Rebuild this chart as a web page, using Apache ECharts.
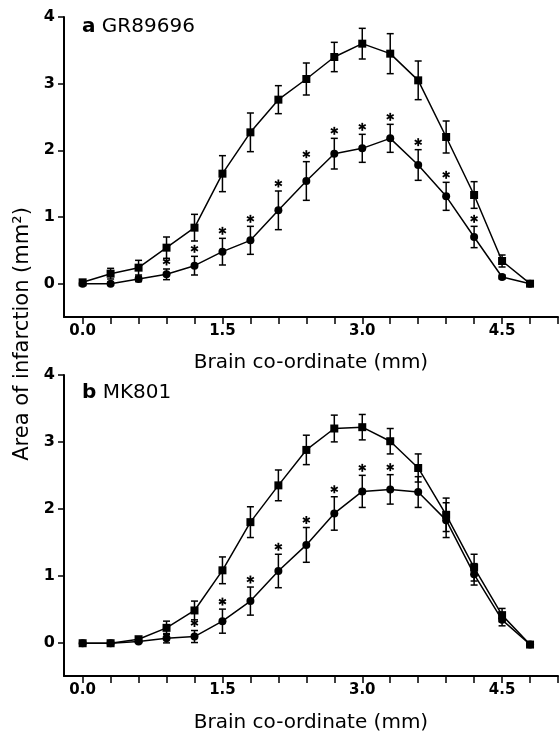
<!DOCTYPE html>
<html>
<head>
<meta charset="utf-8">
<script src="https://cdn.jsdelivr.net/npm/echarts@6/dist/echarts.min.js"></script>
<style>
  html, body { margin: 0; padding: 0; background: #fff; }
  #chart { width: 560px; height: 731px; }
</style>
</head>
<body>
<div id="chart"></div>
<script>
const xValues = [0, 0.3, 0.6, 0.9, 1.2, 1.5, 1.8, 2.1, 2.4, 2.7, 3.0, 3.3, 3.6, 3.9, 4.2, 4.5, 4.8]
const xTicks = [0, 0.3, 0.6, 0.9, 1.2, 1.5, 1.8, 2.1, 2.4, 2.7, 3.0, 3.3, 3.6, 3.9, 4.2, 4.5, 4.8, 5.1]
const xLabels = [0, 1.5, 3.0, 4.5]
const yTicks = [0, 1, 2, 3, 4]

// panel a: GR89696
const aControl = [0.02, 0.15, 0.24, 0.54, 0.84, 1.65, 2.27, 2.76, 3.07, 3.40, 3.60, 3.45, 3.05, 2.20, 1.33, 0.34, 0.00]
const aControlErr = [0, 0.08, 0.11, 0.16, 0.20, 0.27, 0.29, 0.21, 0.24, 0.22, 0.23, 0.30, 0.29, 0.24, 0.20, 0.09, 0]
const aDrug = [0.00, 0.00, 0.07, 0.14, 0.27, 0.48, 0.65, 1.10, 1.54, 1.95, 2.03, 2.18, 1.78, 1.31, 0.70, 0.10, 0.00]
const aDrugErr = [0, 0.02, 0.04, 0.08, 0.14, 0.20, 0.21, 0.29, 0.29, 0.23, 0.21, 0.21, 0.23, 0.21, 0.16, 0.03, 0]
const aStars = [0, 0, 0, 1, 1, 1, 1, 1, 1, 1, 1, 1, 1, 1, 1, 0, 0]

// panel b: MK801
const bControl = [-0.01, -0.01, 0.05, 0.22, 0.48, 1.08, 1.80, 2.35, 2.88, 3.20, 3.22, 3.01, 2.61, 1.91, 1.12, 0.41, -0.03]
const bControlErr = [0, 0, 0.03, 0.10, 0.14, 0.20, 0.23, 0.23, 0.22, 0.20, 0.19, 0.19, 0.21, 0.25, 0.20, 0.10, 0]
const bDrug = [-0.01, -0.01, 0.015, 0.065, 0.09, 0.32, 0.62, 1.07, 1.46, 1.93, 2.26, 2.29, 2.25, 1.83, 1.02, 0.34, -0.03]
const bDrugErr = [0, 0, 0.02, 0.07, 0.09, 0.18, 0.21, 0.25, 0.26, 0.25, 0.24, 0.22, 0.23, 0.26, 0.16, 0.09, 0]
const bStars = [0, 0, 0, 0, 1, 1, 1, 1, 1, 1, 1, 1, 0, 0, 0, 0, 0]

const FONT = 'DejaVu Sans'
const noStars = xValues.map(() => 0)

const pairs = ys => xValues.map((x, i) => [x, ys[i]])
const errData = (ys, errs, stars) => xValues.map((x, i) => [x, ys[i], errs[i], stars[i]])

const renderErr = (params, api) => {
  const x = api.value(0)
  const y = api.value(1)
  const e = api.value(2)
  const star = api.value(3)
  const style = { stroke: '#000', lineWidth: 1.5 }
  const children = []
  const top = api.coord([x, y + e])
  if (e > 0) {
    const bot = api.coord([x, y - e])
    children.push(
      { type: 'line', shape: { x1: top[0], y1: top[1], x2: bot[0], y2: bot[1] }, style },
      { type: 'line', shape: { x1: top[0] - 3.5, y1: top[1], x2: top[0] + 3.5, y2: top[1] }, style },
      { type: 'line', shape: { x1: bot[0] - 3.5, y1: bot[1], x2: bot[0] + 3.5, y2: bot[1] }, style }
    )
  }
  if (star) {
    // small six-point asterisk above the upper cap
    const cx = top[0]
    const cy = top[1] - 7.5
    const r = 4
    for (let k = 0; k < 3; k++) {
      const ang = Math.PI / 2 + k * Math.PI / 3
      const dx = Math.cos(ang) * r
      const dy = Math.sin(ang) * r
      children.push({
        type: 'line',
        shape: { x1: cx - dx, y1: cy - dy, x2: cx + dx, y2: cy + dy },
        style: { stroke: '#000', lineWidth: 1.8 }
      })
    }
  }
  return { type: 'group', children }
}

const makeXAxis = gridIndex => ({
  type: 'value',
  gridIndex,
  position: 'bottom',
  min: -0.2,
  max: 5.1,
  axisLine: { onZero: false, lineStyle: { color: '#000', width: 2 } },
  axisTick: { show: true, length: 7, lineStyle: { color: '#000', width: 1.5 }, customValues: xTicks },
  axisLabel: {
    customValues: xLabels,
    formatter: v => v.toFixed(1),
    color: '#000',
    fontFamily: FONT,
    fontWeight: 'bold',
    fontSize: 15,
    margin: 7
  },
  splitLine: { show: false }
})

const makeYAxis = gridIndex => ({
  type: 'value',
  gridIndex,
  position: 'left',
  min: -0.5,
  max: 4,
  axisLine: { onZero: false, lineStyle: { color: '#000', width: 2 } },
  axisTick: { show: true, length: 6, lineStyle: { color: '#000', width: 1.5 }, customValues: yTicks },
  axisLabel: {
    customValues: yTicks,
    color: '#000',
    fontFamily: FONT,
    fontWeight: 'bold',
    fontSize: 16,
    margin: 9
  },
  splitLine: { show: false }
})

const lineSeries = (data, idx, symbol, size) => ({
  type: 'line',
  xAxisIndex: idx,
  yAxisIndex: idx,
  data,
  symbol,
  symbolSize: size,
  showSymbol: true,
  animation: false,
  z: 3,
  itemStyle: { color: '#000' },
  lineStyle: { color: '#000', width: 1.5 }
})

const errSeries = (data, idx) => ({
  type: 'custom',
  xAxisIndex: idx,
  yAxisIndex: idx,
  renderItem: renderErr,
  data,
  encode: { x: 0, y: 1 },
  animation: false,
  z: 2
})

const chart = echarts.init(document.getElementById('chart'))

chart.setOption({
  animation: false,
  grid: [
    { left: 64, top: 17, width: 494, height: 300 },
    { left: 64, top: 375, width: 494, height: 301 }
  ],
  xAxis: [makeXAxis(0), makeXAxis(1)],
  yAxis: [makeYAxis(0), makeYAxis(1)],
  series: [
    errSeries(errData(aControl, aControlErr, noStars), 0),
    errSeries(errData(aDrug, aDrugErr, aStars), 0),
    lineSeries(pairs(aControl), 0, 'rect', 8),
    lineSeries(pairs(aDrug), 0, 'circle', 8),
    errSeries(errData(bControl, bControlErr, noStars), 1),
    errSeries(errData(bDrug, bDrugErr, bStars), 1),
    lineSeries(pairs(bControl), 1, 'rect', 8),
    lineSeries(pairs(bDrug), 1, 'circle', 8)
  ],
  graphic: [
    {
      type: 'text', left: 82, top: 17,
      style: {
        text: '{b|a} GR89696',
        font: '500 20px "DejaVu Sans"',
        fill: '#000',
        rich: { b: { fontWeight: 'bold', fontSize: 20, fontFamily: FONT } }
      }
    },
    {
      type: 'text', left: 82, top: 383,
      style: {
        text: '{b|b} MK801',
        font: '500 20px "DejaVu Sans"',
        fill: '#000',
        rich: { b: { fontWeight: 'bold', fontSize: 20, fontFamily: FONT } }
      }
    },
    {
      type: 'text', x: 311, y: 363,
      style: { text: 'Brain co-ordinate (mm)', font: '20px "DejaVu Sans"', fill: '#000', align: 'center', verticalAlign: 'middle' }
    },
    {
      type: 'text', x: 311, y: 723,
      style: { text: 'Brain co-ordinate (mm)', font: '20px "DejaVu Sans"', fill: '#000', align: 'center', verticalAlign: 'middle' }
    },
    {
      type: 'text', x: 23, y: 334, rotation: Math.PI / 2,
      style: { text: 'Area of infarction (mm²)', font: '21px "DejaVu Sans"', fill: '#000', align: 'center', verticalAlign: 'middle' }
    }
  ]
})
</script>
</body>
</html>
